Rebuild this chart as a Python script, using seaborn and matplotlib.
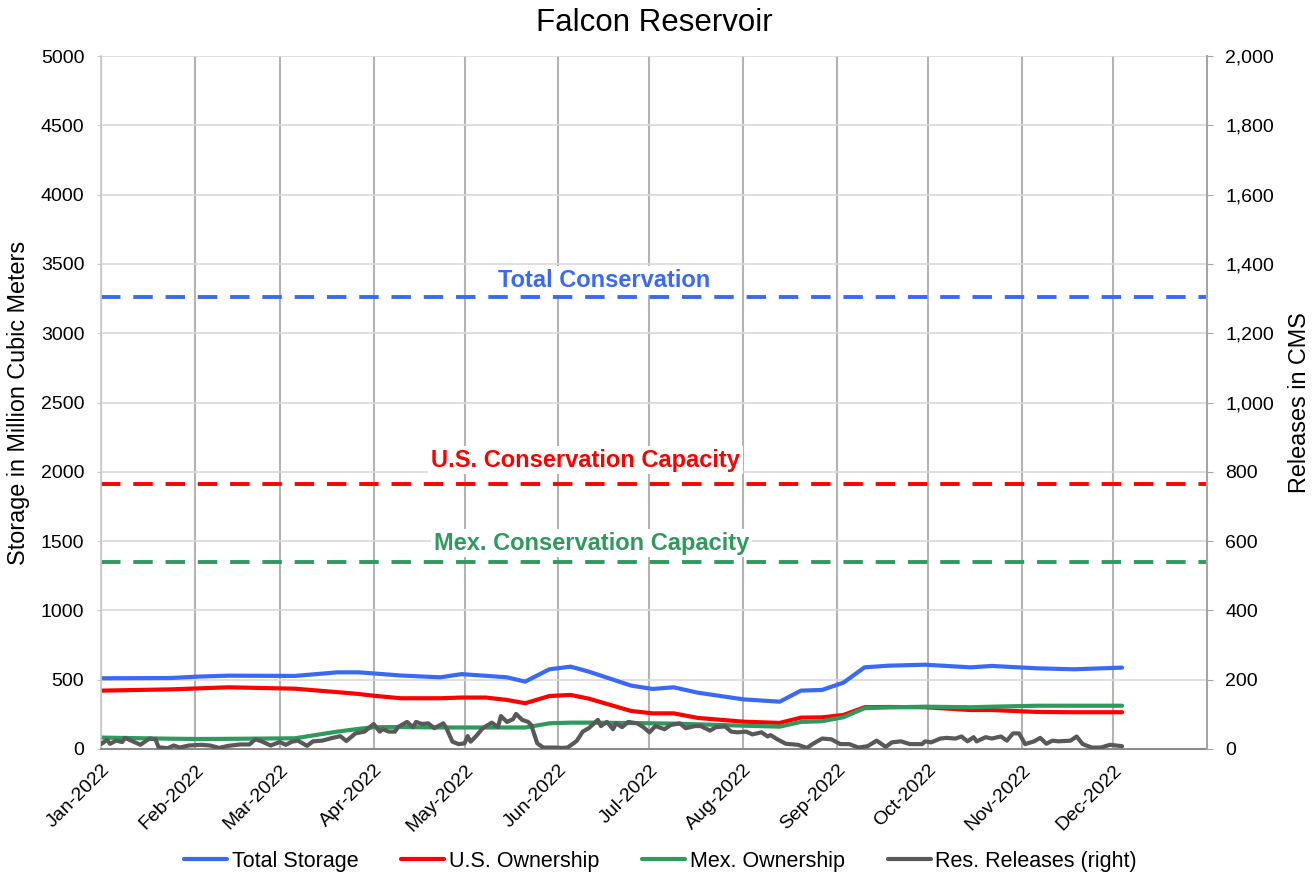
import numpy as np
import pandas as pd
import matplotlib
matplotlib.use("Agg")
import matplotlib.pyplot as plt
import matplotlib.dates as mdates
from matplotlib.ticker import FuncFormatter
import seaborn as sns

sns.set_style("white")
plt.rcParams['font.family'] = ['Liberation Sans', 'DejaVu Sans']
plt.rcParams.update({"text.color": "black", "axes.labelcolor": "black",
                     "xtick.color": "black", "ytick.color": "black"})

# storage readings, days after 1 Jan 2022
storage_days = [0, 23, 32, 42, 64, 78, 85, 90, 99, 112, 119, 127, 134, 140, 148, 155, 161,
                175, 182, 189, 197, 212, 224, 231, 238, 245, 252, 260, 272, 287, 294, 309, 321, 337]
total_storage = [510, 512, 522, 529, 527, 553, 553, 545, 530, 517, 540, 528, 517, 486, 575, 594, 558,
                 457, 433, 445, 406, 358, 341, 421, 426, 478, 589, 601, 608, 589, 599, 582, 575, 587]
us_ownership = [421, 430, 437, 445, 435, 410, 397, 384, 366, 366, 371, 371, 354, 330, 382, 390, 363,
                274, 257, 257, 224, 197, 188, 226, 228, 245, 301, 303, 301, 281, 281, 267, 265, 265]
mex_ownership = [82, 74, 72, 73, 77, 125, 145, 157, 158, 155, 155, 155, 155, 155, 185, 190, 190,
                 187, 185, 183, 178, 168, 161, 195, 200, 229, 294, 300, 305, 301, 305, 312, 312, 312]

# releases (right axis), days after 1 Jan 2022
release_days = [0, 2, 3, 5, 7, 8, 11, 13, 16, 18, 19, 22, 24, 26, 29, 33, 36, 39, 42, 46, 49, 51, 53,
                56, 59, 61, 63, 65, 68, 70, 73, 76, 79, 81, 84, 87, 90, 92, 93, 95, 97, 98, 101, 103,
                104, 106, 108, 110, 113, 114, 116, 118, 120, 121, 122, 124, 126, 129, 131, 132, 134,
                136, 137, 139, 141, 142, 144, 146, 150, 152, 154, 157, 159, 161, 164, 165, 167, 169,
                170, 172, 174, 177, 179, 181, 183, 186, 188, 191, 193, 196, 198, 201, 203, 206, 208,
                210, 213, 215, 218, 220, 221, 223, 226, 230, 233, 235, 238, 241, 244, 247, 250, 253,
                256, 259, 261, 264, 267, 271, 272, 274, 277, 279, 282, 284, 286, 288, 289, 292, 294,
                297, 299, 301, 303, 305, 308, 310, 312, 314, 316, 320, 322, 324, 327, 330, 333, 337]
releases = [14, 26, 15, 24, 20, 32, 20, 12, 30, 28, 5, 2, 10, 4, 10, 12, 10, 3, 9, 13, 13, 28, 22,
            10, 20, 12, 21, 24, 9, 22, 24, 31, 37, 23, 45, 50, 72, 50, 57, 50, 50, 63, 78, 63,
            78, 72, 74, 60, 74, 60, 21, 14, 16, 37, 21, 39, 60, 76, 63, 95, 78,
            86, 101, 84, 78, 69, 16, 4, 4, 3, 4, 23, 50, 60, 84, 66, 78, 57,
            74, 63, 78, 74, 63, 48, 66, 57, 69, 74, 60, 66, 66, 53, 63, 65, 50,
            48, 50, 42, 48, 36, 40, 29, 15, 12, 3, 15, 30, 28, 14, 14, 4, 8,
            24, 6, 19, 22, 14, 14, 22, 19, 30, 32, 30, 36, 22, 34, 22, 34, 30,
            36, 24, 45, 45, 14, 22, 32, 15, 24, 22, 24, 36, 14, 4, 4, 12, 8]

total_conservation = 3265
us_conservation = 1913
mex_conservation = 1351

start = pd.Timestamp("2022-01-01")
storage = pd.DataFrame({
    "date": start + pd.to_timedelta(storage_days, unit="D"),
    "total": total_storage,
    "us": us_ownership,
    "mex": mex_ownership,
})
rel = pd.DataFrame({"date": start + pd.to_timedelta(release_days, unit="D"), "cms": releases})

c_blue, c_red, c_green, c_gray = "#3a6af5", "#ff0000", "#2e9a5e", "#595959"

fig = plt.figure(figsize=(13.13, 8.77), dpi=100)
ax = fig.add_axes([0.0769, 0.146, 0.8423, 0.790])
ax2 = ax.twinx()

sns.lineplot(data=storage, x="date", y="total", ax=ax, color=c_blue, lw=3, legend=False)
sns.lineplot(data=storage, x="date", y="us", ax=ax, color=c_red, lw=3, legend=False)
sns.lineplot(data=storage, x="date", y="mex", ax=ax, color=c_green, lw=3, legend=False)
sns.lineplot(data=rel, x="date", y="cms", ax=ax2, color=c_gray, lw=3, legend=False)

for lvl, col in [(total_conservation, c_blue), (us_conservation, c_red), (mex_conservation, c_green)]:
    ax.axhline(lvl, color=col, lw=2.8, ls=(0, (5, 3.3)), zorder=1.5)

box = dict(fc="white", ec="none", pad=2)
ax.text(pd.Timestamp("2022-06-16"), 3380, "Total Conservation", color=c_blue, fontsize=17,
        fontweight="bold", ha="center", va="center", bbox=box)
ax.text(pd.Timestamp("2022-06-10"), 2085, "U.S. Conservation Capacity", color=c_red, fontsize=17,
        fontweight="bold", ha="center", va="center", bbox=box)
ax.text(pd.Timestamp("2022-06-12"), 1486, "Mex. Conservation Capacity", color=c_green, fontsize=17,
        fontweight="bold", ha="center", va="center", bbox=box)

ax.set_xlim(pd.Timestamp("2022-01-01"), pd.Timestamp("2023-01-01"))
ax.set_ylim(0, 5000)
ax.set_yticks(np.arange(0, 5001, 500))
ax2.set_ylim(0, 2000)
ax2.set_yticks(np.arange(0, 2001, 200))
ax2.yaxis.set_major_formatter(FuncFormatter(lambda v, p: f"{int(v):,}"))

months = pd.date_range("2022-01-01", "2022-12-01", freq="MS")
ax.set_xticks(months)
ax.xaxis.set_major_formatter(mdates.DateFormatter("%b-%Y"))
plt.setp(ax.get_xticklabels(), rotation=45, ha="right", rotation_mode="anchor")

ax.grid(axis="y", color="#d9d9d9", lw=1.2)
ax.grid(axis="x", color="#b3b3b3", lw=1.5)
ax.set_axisbelow(True)

for a in (ax, ax2):
    for s in a.spines.values():
        s.set_visible(False)
ax.spines["bottom"].set_visible(True)
ax.spines["bottom"].set_color("#8c8c8c")
ax.spines["bottom"].set_linewidth(1.5)
ax.spines["left"].set_visible(True)
ax.spines["left"].set_color("#c8c8c8")
ax.spines["left"].set_linewidth(1.2)
ax2.spines["right"].set_visible(True)
ax2.spines["right"].set_color("#a6a6a6")
ax2.spines["right"].set_linewidth(1.5)

ax.tick_params(axis="x", length=5, color="#8c8c8c", labelsize=14, pad=4)
ax.tick_params(axis="y", length=3, color="#c8c8c8", labelsize=14, pad=9)
ax2.tick_params(axis="y", length=4.3, color="#a6a6a6", labelsize=14, pad=9)

ax.set_xlabel("")
ax.set_ylabel("Storage in Million Cubic Meters", fontsize=16.8, labelpad=8)
ax2.set_ylabel("Releases in CMS", fontsize=16.8, labelpad=10)
ax.set_title("Falcon Reservoir", fontsize=22.5, pad=18)

handles = ax.get_lines()[:3] + ax2.get_lines()[:1]
labels = ["Total Storage", "U.S. Ownership", "Mex. Ownership", "Res. Releases (right)"]
fig.legend(handles, labels, loc="center", bbox_to_anchor=(0.503, 1 - 861 / 877), ncol=4,
           frameon=False, fontsize=15.5, handlelength=2.0, handletextpad=0.2, columnspacing=2.0)

fig.savefig("out.png", dpi=100)
